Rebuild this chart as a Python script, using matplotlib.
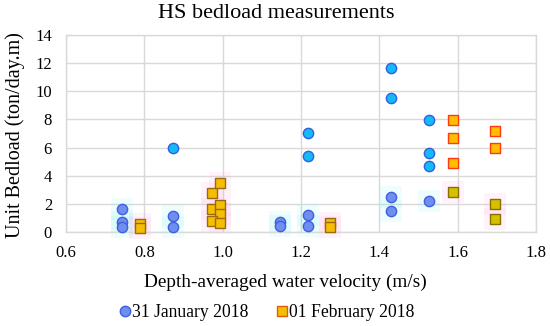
import matplotlib
matplotlib.use("Agg")
import matplotlib.pyplot as plt
from matplotlib.lines import Line2D

plt.rcParams['font.family'] = ['Liberation Serif', 'DejaVu Serif']

# 31 January 2018 - low values (glow highlighted)
jan_low_x = [0.742, 0.742, 0.742, 0.874, 0.874, 1.146, 1.146, 1.217, 1.217, 1.429, 1.429, 1.527]
jan_low_y = [1.63, 0.73, 0.33, 1.14, 0.38, 0.73, 0.40, 1.21, 0.45, 2.51, 1.49, 2.18]
# 31 January 2018 - high values
jan_high_x = [0.874, 1.217, 1.217, 1.429, 1.429, 1.527, 1.527, 1.527]
jan_high_y = [5.97, 7.06, 5.40, 11.63, 9.52, 7.96, 5.64, 4.71]

# 01 February 2018 - low values at low velocity (glow highlighted)
feb_low_x = [0.789, 0.789, 0.972, 0.993, 0.972, 0.993, 0.993, 0.972, 0.993, 1.274, 1.274]
feb_low_y = [0.57, 0.26, 2.75, 3.51, 1.66, 1.90, 1.28, 0.78, 0.66, 0.62, 0.33]
# 01 February 2018 - low values at high velocity (glow highlighted)
feb_low2_x = [1.587, 1.695, 1.695]
feb_low2_y = [2.84, 2.01, 0.95]
# 01 February 2018 - high values
feb_high_x = [1.587, 1.587, 1.587, 1.695, 1.695]
feb_high_y = [7.96, 6.70, 4.88, 7.20, 5.99]

title = "HS bedload measurements"
xlabel = "Depth-averaged water velocity (m/s)"
ylabel = "Unit Bedload (ton/day.m)"
legend_labels = ["31 January 2018", "01 February 2018"]
xticks = [0.6, 0.8, 1.0, 1.2, 1.4, 1.6, 1.8]
yticks = [0, 2, 4, 6, 8, 10, 12, 14]

fig = plt.figure(figsize=(5.5, 3.26), dpi=100)
ax = fig.add_axes([0.12, 0.2883, 0.8545, 0.6043])

# glow backgrounds
ax.scatter(jan_low_x, jan_low_y, s=230, marker='s', color='#80f0f0', alpha=0.13,
           linewidths=0, zorder=2, clip_on=False)
ax.scatter(feb_low_x + feb_low2_x, feb_low_y + feb_low2_y, s=230, marker='s',
           color='#ffa0e0', alpha=0.13, linewidths=0, zorder=2, clip_on=False)

ax.scatter(jan_low_x, jan_low_y, s=55, marker='o', facecolor='#6e8ef0',
           edgecolor='#3f5fe0', linewidths=1.0, zorder=4, clip_on=False)
ax.scatter(jan_high_x, jan_high_y, s=55, marker='o', facecolor='#14baf5',
           edgecolor='#2f5fe0', linewidths=1.0, zorder=4, clip_on=False)
ax.scatter(feb_low_x, feb_low_y, s=48, marker='s', facecolor='#f5be00',
           edgecolor='#9a6a10', linewidths=1.0, zorder=4, clip_on=False)
ax.scatter(feb_low2_x, feb_low2_y, s=48, marker='s', facecolor='#d8c000',
           edgecolor='#857000', linewidths=1.0, zorder=4, clip_on=False)
ax.scatter(feb_high_x, feb_high_y, s=48, marker='s', facecolor='#ffbf00',
           edgecolor='#ff3a10', linewidths=1.0, zorder=4, clip_on=False)

ax.set_xlim(0.6, 1.8)
ax.set_ylim(0, 14)
ax.set_xticks(xticks)
ax.set_xticklabels([f"{t:.1f}" for t in xticks])
ax.set_yticks(yticks)
ax.grid(True, color='#d9d9d9', linewidth=1.0, zorder=0)
ax.set_axisbelow(True)
for sp in ax.spines.values():
    sp.set_color('#d9d9d9')
    sp.set_linewidth(1.0)
ax.tick_params(length=0, labelsize=12, colors='#000000')
ax.tick_params(axis='y', pad=10)
ax.tick_params(axis='x', pad=9)

fig.text(276 / 550, 1 - 14 / 326, title, fontsize=16, ha='center', va='center')
fig.text(285 / 550, 1 - 282 / 326, xlabel, fontsize=13.9, ha='center', va='center')
fig.text(15 / 550, 1 - 135 / 326, ylabel, fontsize=14.5, ha='center', va='center',
         rotation=90)

handles = [
    Line2D([], [], linestyle='none', marker='o', markersize=7.5,
           markerfacecolor='#6e8ef0', markeredgecolor='#3f5fe0'),
    Line2D([], [], linestyle='none', marker='s', markersize=7,
           markerfacecolor='#f2c000', markeredgecolor='#e05a10'),
]
fig.legend(handles, legend_labels, loc='center', bbox_to_anchor=(0.485, 0.04),
           ncol=2, frameon=False, fontsize=12.7, handlelength=0.6,
           handletextpad=0.1, columnspacing=1.6)

fig.savefig("out.png", dpi=100)
